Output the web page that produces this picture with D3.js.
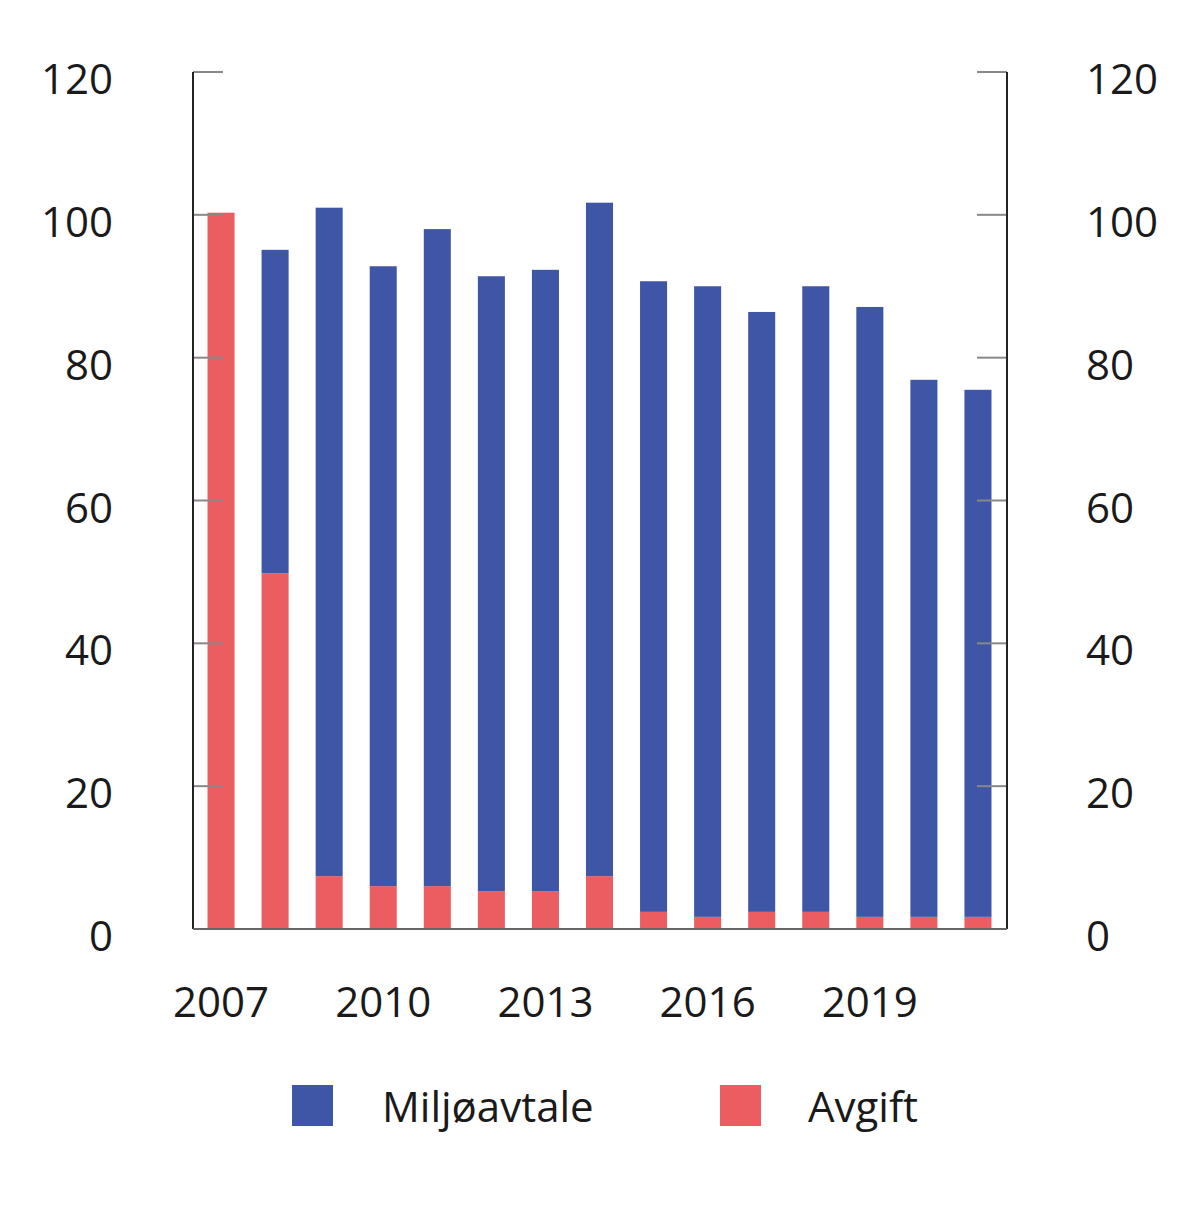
<!DOCTYPE html>
<html><head><meta charset="utf-8">
<script src="https://cdn.jsdelivr.net/npm/d3@7"></script>
<style>body{margin:0;background:#fff}svg text{font-family:"Open Sans",sans-serif;fill:#1a1a1a}</style>
</head><body><svg id="c" width="1200" height="1215"></svg>
<script>
const years = [2007,2008,2009,2010,2011,2012,2013,2014,2015,2016,2017,2018,2019,2020,2021];
const avgift = [100.3,49.8,7.4,6.0,6.0,5.3,5.3,7.4,2.4,1.7,2.4,2.4,1.7,1.7,1.7];
const miljoavtale = [0,45.3,93.6,86.8,92.0,86.1,87.0,94.3,88.3,88.3,84.0,87.6,85.4,75.2,73.8];
const yTicks = [0,20,40,60,80,100,120];
const xTickYears = [2007,2010,2013,2016,2019];
const seriesNames = ["Miljøavtale","Avgift"];
const colors = {"Miljøavtale":"#3f55a5","Avgift":"#ec5d62"};

const svg = d3.select("#c");
const L=193,R=1007,T=72,B=929;
const x = d3.scaleBand().domain(years).range([194,1005]).paddingInner(0.5).paddingOuter(0.25);
const y = d3.scaleLinear().domain([0,120]).range([B,T]);

const data = years.map((yr,i)=>({year:yr,"Avgift":avgift[i],"Miljøavtale":miljoavtale[i]}));
const stack = d3.stack().keys(["Avgift","Miljøavtale"])(data);
svg.append("g").selectAll("g").data(stack).join("g").attr("fill",d=>colors[d.key])
 .selectAll("rect").data(d=>d).join("rect")
 .attr("x",d=>x(d.data.year)).attr("width",x.bandwidth())
 .attr("y",d=>y(d[1])).attr("height",d=>y(d[0])-y(d[1]));

// ticks
const tg = svg.append("g");
yTicks.filter(t=>t>0).forEach(t=>{
  tg.append("line").attr("x1",L).attr("x2",L+30).attr("y1",y(t)).attr("y2",y(t)).attr("stroke","#888").attr("stroke-width",2);
  tg.append("line").attr("x1",R-30).attr("x2",R).attr("y1",y(t)).attr("y2",y(t)).attr("stroke","#888").attr("stroke-width",2);
});
svg.append("line").attr("x1",L).attr("x2",L).attr("y1",T).attr("y2",B).attr("stroke","#222").attr("stroke-width",2);
svg.append("line").attr("x1",R).attr("x2",R).attr("y1",T).attr("y2",B).attr("stroke","#222").attr("stroke-width",2);
svg.append("line").attr("x1",L).attr("x2",R).attr("y1",B).attr("y2",B).attr("stroke","#666").attr("stroke-width",2);

const fs=42;
svg.append("g").selectAll("text").data(yTicks).join("text")
 .attr("x",113).attr("y",d=>y(d)+7).attr("dy","0.36em").attr("text-anchor","end").attr("font-size",fs).text(d=>d);
svg.append("g").selectAll("text").data(yTicks).join("text")
 .attr("x",1086).attr("y",d=>y(d)+7).attr("dy","0.36em").attr("text-anchor","start").attr("font-size",fs).text(d=>d);
svg.append("g").selectAll("text").data(xTickYears).join("text")
 .attr("x",d=>x(d)+x.bandwidth()/2).attr("y",1017).attr("text-anchor","middle").attr("font-size",fs).text(d=>d);

// legend
const leg = [{n:seriesNames[0],sx:292,tx:382},{n:seriesNames[1],sx:720,tx:808}];
leg.forEach(l=>{
  svg.append("rect").attr("x",l.sx).attr("y",1085).attr("width",41).attr("height",41).attr("fill",colors[l.n]);
  svg.append("text").attr("x",l.tx).attr("y",1122).attr("font-size",fs).text(l.n);
});
</script></body></html>
